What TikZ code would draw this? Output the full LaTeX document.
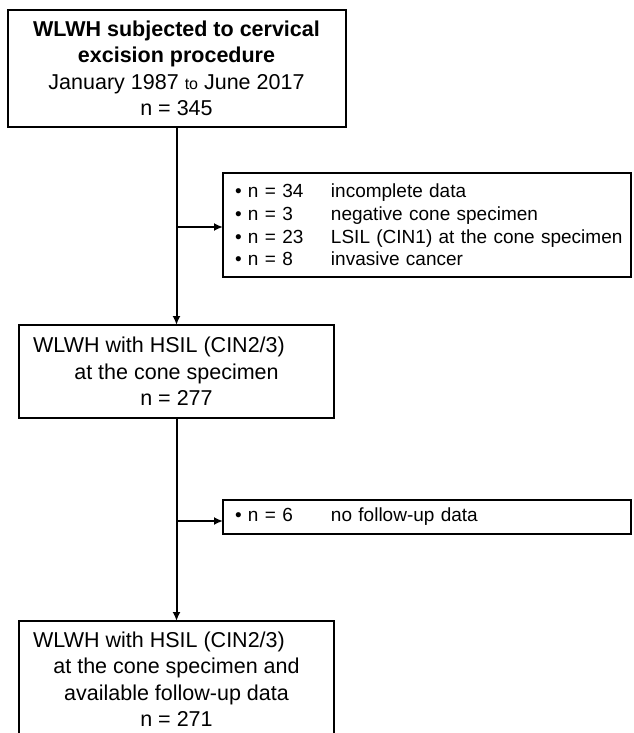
\documentclass[tikz,border=0pt]{standalone}
\usepackage{fontspec}
\setmainfont{Liberation Sans}
\usetikzlibrary{positioning,arrows.meta}
\newcommand{\exclrow}[2]{\makebox[19pt][l]{\hspace*{6pt}\textbullet}\makebox[83pt][l]{n = #1}#2}

\begin{document}
\begin{tikzpicture}[
  x=1pt, y=1pt,
  mainbox/.style={draw, line width=2pt, align=center, inner sep=0pt, outer sep=0pt, font=\fontsize{21.5}{26.5}\selectfont},
  sidebox/.style={draw, line width=2pt, align=left, text width=396pt, inner xsep=6pt, inner ysep=0pt, outer sep=0pt, font=\fontsize{19}{22.7}\selectfont},
  arr/.style={-{Latex[length=9pt,width=8pt]}, line width=2pt}
]
\useasboundingbox (0,0) rectangle (633,-733);
\fill[white] (0,0) rectangle (633,-733);
\clip (0,0) rectangle (633,-733);
\node[mainbox, minimum width=338pt, minimum height=117pt] (cohort) at (176.5,-68.5) {\textbf{WLWH subjected to cervical}\\ \textbf{excision procedure}\\ January 1987 {\fontsize{16}{26.5}\selectfont to} June 2017\\ n = 345};
\node[mainbox, minimum width=315pt, minimum height=93pt, below=198pt of cohort] (hsil) {WLWH with HSIL (CIN2/3)\hspace*{35pt}\\ at the cone specimen\\ n = 277};
\node[mainbox, minimum width=315pt, minimum height=116pt, below=203pt of hsil] (followup) {WLWH with HSIL (CIN2/3)\hspace*{35pt}\\ at the cone specimen and\\ available follow-up data\\ n = 271};
\node[sidebox, minimum height=104pt] (excluded) at (427,-225) {\exclrow{34}{incomplete data}\\ \exclrow{3}{negative cone specimen}\\ \exclrow{23}{LSIL (CIN1) at the cone specimen}\\ \exclrow{8}{invasive cancer}};
\node[sidebox, minimum height=34pt] (nofollow) at (427,-517) {\exclrow{6}{no follow-up data}};
% main column
\draw[arr] (cohort.south) -- (hsil.north);
\draw[arr] (hsil.south) -- (followup.north);
% side branches
\path (cohort.south) ++(0,-100) coordinate (split1);
\path (hsil.south) ++(0,-103) coordinate (split2);
\draw[arr] (split1) -- (split1 -| excluded.west);
\draw[arr] (split2) -- (split2 -| nofollow.west);
\end{tikzpicture}
\end{document}
